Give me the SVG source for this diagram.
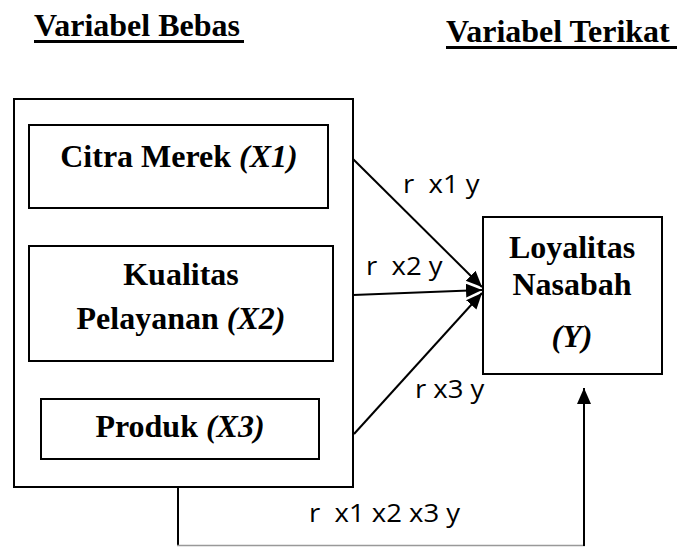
<svg xmlns="http://www.w3.org/2000/svg" width="695" height="547" viewBox="0 0 695 547">
<style>
.box{fill:#fff;stroke:#000;stroke-width:2}
.serif{font-family:"Liberation Serif","Times New Roman",serif;font-weight:bold;font-size:32px;fill:#000}
.it{font-style:italic}
.lbl{font-family:"Open Sans","Liberation Sans",sans-serif;font-size:25px;fill:#000;white-space:pre}
.con{stroke:#000;stroke-width:2;fill:none}
</style>
<defs>
<marker id="ah" markerUnits="userSpaceOnUse" markerWidth="17" markerHeight="15" refX="16" refY="7" orient="auto">
<path d="M0,0 L16,7 L0,14 z" fill="#000"/>
</marker>
</defs>
<g id="headings">
<text class="serif" x="34" y="36">Variabel Bebas</text>
<rect x="34" y="40" width="210" height="3" fill="#000"/>
<text class="serif" x="446" y="42">Variabel Terikat</text>
<rect x="446" y="46" width="231" height="3" fill="#000"/>
</g>
<g id="outer">
<rect class="box" x="14" y="99" width="339" height="388"/>
</g>
<g id="x1">
<rect class="box" x="29" y="125" width="299" height="83"/>
<text class="serif" x="179" y="167" text-anchor="middle">Citra Merek <tspan class="it">(X1)</tspan></text>
</g>
<g id="x2">
<rect class="box" x="29" y="246" width="304" height="115"/>
<text class="serif" x="181" y="285" text-anchor="middle">Kualitas</text>
<text class="serif" x="181" y="329" text-anchor="middle">Pelayanan <tspan class="it">(X2)</tspan></text>
</g>
<g id="x3">
<rect class="box" x="41" y="399" width="278" height="60"/>
<text class="serif" x="180" y="437" text-anchor="middle">Produk <tspan class="it">(X3)</tspan></text>
</g>
<g id="y">
<rect class="box" x="483" y="217" width="179" height="157"/>
<text class="serif" x="572" y="258" text-anchor="middle">Loyalitas</text>
<text class="serif" x="572" y="295" text-anchor="middle">Nasabah</text>
<text class="serif it" x="572" y="347" text-anchor="middle">(Y)</text>
</g>
<g id="connectors">
<line class="con" x1="353" y1="159" x2="482" y2="287" marker-end="url(#ah)"/>
<line class="con" x1="353" y1="295" x2="482" y2="290" marker-end="url(#ah)"/>
<line class="con" x1="354" y1="434" x2="482" y2="293" marker-end="url(#ah)"/>
<line x1="178" y1="487" x2="178" y2="546" stroke="#000" stroke-width="2"/>
<line x1="177" y1="545.5" x2="585" y2="545.5" stroke="#999" stroke-width="1.5"/>
<line class="con" x1="584" y1="546" x2="584" y2="388" marker-end="url(#ah)"/>
</g>
<g id="labels">
<text class="lbl" xml:space="preserve" transform="translate(403 193) scale(1.1 1)">r  x1 y</text>
<text class="lbl" xml:space="preserve" transform="translate(366 275) scale(1.1 1)">r  x2 y</text>
<text class="lbl" xml:space="preserve" transform="translate(415 398) scale(1.1 1)">r x3 y</text>
<text class="lbl" xml:space="preserve" transform="translate(309 522) scale(1.1 1)">r  x1 x2 x3 y</text>
</g>
</svg>
